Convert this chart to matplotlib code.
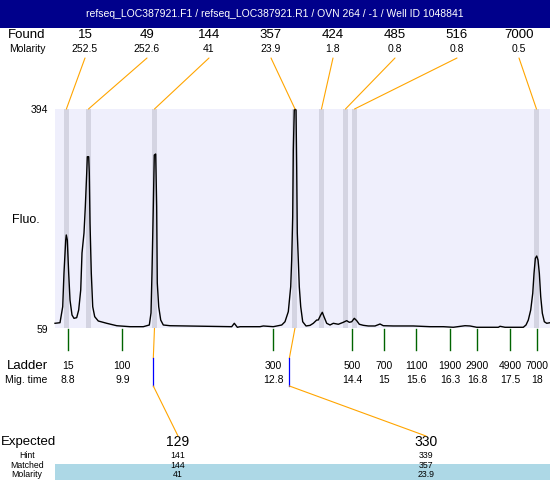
import matplotlib.pyplot as plt
from matplotlib.patches import ConnectionPatch, Rectangle
from matplotlib.transforms import blended_transform_factory

plt.rcParams['font.family'] = ['Liberation Sans', 'DejaVu Sans']

# --- datos ---
title = 'refseq_LOC387921.F1 / refseq_LOC387921.R1 / OVN 264 / -1 / Well ID 1048841'

found_sizes = ['15', '49', '144', '357', '424', '485', '516', '7000']
found_molarity = ['252.5', '252.6', '41', '23.9', '1.8', '0.8', '0.8', '0.5']
found_times = [8.775, 9.208, 10.501, 13.254, 13.773, 14.243, 14.420, 17.985]

ladder_sizes = [15, 100, 300, 500, 700, 1100, 1900, 2900, 4900, 7000]
ladder_times = [8.800, 9.871, 12.829, 14.377, 15.004, 15.631, 16.297, 16.826, 17.472, 18.001]

expected_sizes = ['129', '330']
expected_hint = ['141', '339']
expected_matched = ['144', '357']
expected_molarity = ['41', '23.9']
expected_times = [10.478, 13.144]

trace_time = [8.552, 8.650, 8.703, 8.728, 8.762, 8.773, 8.793, 8.820, 8.846, 8.885,
              8.924, 8.977, 9.016, 9.056, 9.081, 9.120, 9.146, 9.173, 9.185, 9.212,
              9.224, 9.238, 9.263, 9.291, 9.330, 9.400, 9.565, 9.761, 10.021, 10.282,
              10.400, 10.433, 10.452, 10.478, 10.497, 10.525, 10.544, 10.556, 10.584, 10.623,
              10.674, 10.805, 12.014, 12.065, 12.124, 12.177, 12.568, 12.633, 12.829, 12.994,
              13.058, 13.123, 13.170, 13.189, 13.209, 13.221, 13.240, 13.254, 13.274, 13.287,
              13.299, 13.319, 13.338, 13.366, 13.405, 13.470, 13.548, 13.613, 13.679, 13.710,
              13.758, 13.789, 13.822, 13.875, 13.940, 14.005, 14.103, 14.200, 14.267, 14.318,
              14.365, 14.416, 14.463, 14.514, 14.592, 14.690, 14.822, 14.920, 14.984, 15.180,
              15.572, 15.899, 16.160, 16.356, 16.585, 16.683, 16.815, 17.238, 17.271, 17.369,
              17.727, 17.780, 17.825, 17.872, 17.912, 17.937, 17.963, 17.990, 18.015, 18.041,
              18.068, 18.100, 18.139, 18.186, 18.250]
trace_fluo = [66.2, 67.1, 91.6, 143.1, 193.6, 201.3, 193.6, 143.1, 101.8, 78.9,
              73.8, 74.8, 86.5, 117.1, 173.7, 204.3, 244.6, 295.6, 321.0, 321.0,
              296.1, 219.6, 143.1, 91.6, 76.3, 69.7, 66.2, 62.5, 61.0, 61.0,
              63.6, 82.0, 143.1, 244.6, 323.6, 325.2, 244.6, 127.8, 91.6, 71.2,
              63.6, 62.5, 61.0, 66.2, 60.1, 61.0, 61.0, 62.1, 61.0, 63.6,
              68.6, 84.0, 122.2, 163.0, 229.3, 331.3, 392.5, 393.6, 392.5, 305.7,
              204.3, 163.0, 122.2, 91.6, 68.6, 62.1, 63.0, 66.2, 71.2, 71.2,
              78.9, 83.0, 76.3, 66.2, 63.6, 66.2, 64.7, 67.7, 70.2, 67.7,
              68.6, 73.8, 70.2, 64.7, 63.1, 62.1, 62.1, 65.1, 62.5, 62.1,
              62.1, 61.0, 61.0, 60.1, 62.5, 62.1, 60.1, 60.1, 61.6, 60.1,
              60.1, 63.6, 71.2, 86.5, 112.1, 142.7, 165.6, 169.1, 163.0, 142.7,
              106.9, 81.5, 68.6, 66.2, 67.1]

fluo_min, fluo_max = 59, 394
t_min, t_max = 8.552, 18.25

# --- figura ---
fig = plt.figure(figsize=(5.5, 4.8), dpi=100)

# capa en pixeles para textos y cajas
ov = fig.add_axes([0, 0, 1, 1])
ov.set_xlim(0, 550)
ov.set_ylim(480, 0)
ov.axis('off')

ax = fig.add_axes([55 / 550, (480 - 328) / 480, 495 / 550, 219 / 480])
ax.set_xlim(t_min, t_max)
ax.set_ylim(fluo_min, fluo_max)
ax.set_facecolor('#efeffc')
for s in ax.spines.values():
    s.set_visible(False)
ax.set_xticks([])
ax.set_yticks([])

# barra de titulo
ov.add_patch(Rectangle((0, 0), 550, 28, color='#00008b', lw=0))
ov.text(275, 14, title, color='white', ha='center', va='center', fontsize=7.5)

# picos encontrados
ov.text(27, 35, 'Found', ha='center', va='center', fontsize=9.5)
ov.text(27, 49, 'Molarity', ha='center', va='center', fontsize=7.5)
for i, t in enumerate(found_times):
    lx = 85 + 62 * i
    ov.text(lx, 35, found_sizes[i], ha='center', va='center', fontsize=9.5)
    ov.text(lx, 49, found_molarity[i], ha='center', va='center', fontsize=7.5)
    ax.axvspan(t - 0.049, t + 0.049, color='#d4d4e2', lw=0, zorder=1)
    con = ConnectionPatch(xyA=(lx, 58), coordsA=ov.transData,
                          xyB=(t, fluo_max), coordsB=ax.transData,
                          color='orange', lw=0.8)
    fig.add_artist(con)

# trazo
ax.plot(trace_time, trace_fluo, color='black', lw=1.0, zorder=3, clip_on=False)

ov.text(48, 110, '394', ha='right', va='center', fontsize=7.5)
ov.text(48, 330, '59', ha='right', va='center', fontsize=7.5)
ov.text(26, 220, 'Fluo.', ha='center', va='center', fontsize=9)

# escalera
tr = blended_transform_factory(ax.transData, ov.transData)
ov.text(27, 366, 'Ladder', ha='center', va='center', fontsize=9.5)
ov.text(26, 380, 'Mig. time', ha='center', va='center', fontsize=7.5)
for size, t in zip(ladder_sizes, ladder_times):
    ov.plot([t, t], [329, 350], transform=tr, color='#006400', lw=1)
    ov.text(t, 366, str(size), transform=tr, ha='center', va='center', fontsize=7.5)
    ov.text(t, 380, f'{round(t, 1):g}', transform=tr, ha='center', va='center', fontsize=7.5)

# esperados
row_y = [455.2, 465.0, 474.8]
ov.add_patch(Rectangle((55, 464), 495, 16, color='#add8e6', lw=0))
ov.text(0.5, 442.5, 'Expected', ha='left', va='center', fontsize=9.5)
for lab, y in zip(['Hint', 'Matched', 'Molarity'], row_y):
    ov.text(27, y, lab, ha='center', va='center', fontsize=6.3)

expected_x = [178, 426]
for i, et in enumerate(expected_times):
    mt = found_times[found_sizes.index(expected_matched[i])]
    lx = expected_x[i]
    ov.plot([mt, et], [328, 358], transform=tr, color='orange', lw=0.8)
    ov.plot([et, et], [358, 386], transform=tr, color='blue', lw=0.9)
    con = ConnectionPatch(xyA=(et, 386), coordsA=tr,
                          xyB=(lx, 436), coordsB=ov.transData,
                          color='orange', lw=0.8)
    fig.add_artist(con)
    ov.text(lx, 442.5, expected_sizes[i], ha='center', va='center', fontsize=10)
    vals = [expected_hint[i], expected_matched[i], expected_molarity[i]]
    for v, y in zip(vals, row_y):
        ov.text(lx, y, v, ha='center', va='center', fontsize=6.3)

fig.savefig('out.png', dpi=100)
